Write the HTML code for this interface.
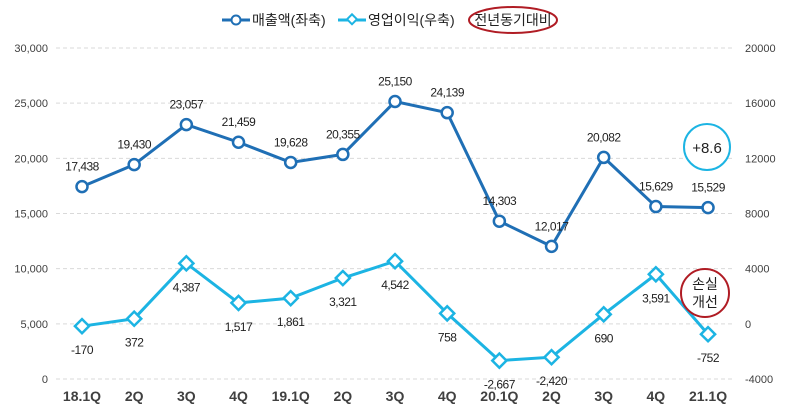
<!DOCTYPE html>
<html><head><meta charset="utf-8"><style>
body{margin:0;background:#fff;}
svg{display:block;font-family:"Liberation Sans","Noto Sans CJK KR",sans-serif;}
</style></head><body>
<svg id="c" width="788" height="410"></svg>
<script>
const categories=["18.1Q","2Q","3Q","4Q","19.1Q","2Q","3Q","4Q","20.1Q","2Q","3Q","4Q","21.1Q"];
const revenue=[17438,19430,23057,21459,19628,20355,25150,24139,14303,12017,20082,15629,15529];
const profit=[-170,372,4387,1517,1861,3321,4542,758,-2667,-2420,690,3591,-752];
const leftTicks=[0,5000,10000,15000,20000,25000,30000];
const rightTicks=[-4000,0,4000,8000,12000,16000,20000];
const NS="http://www.w3.org/2000/svg";
const svg=document.getElementById('c');
function el(t,a,txt){const e=document.createElementNS(NS,t);for(const k in a)e.setAttribute(k,a[k]);if(txt!==undefined)e.textContent=txt;svg.appendChild(e);return e;}
const x=i=>82+i*52.17;
const yL=v=>379-v/30000*331;
const yR=v=>379-(v+4000)/24000*331;
leftTicks.forEach(t=>{
 const g=el('line',{x1:56,x2:734,y1:yL(t),y2:yL(t),stroke:'#d9d9d9','stroke-dasharray':'4,3'});
 
 const l=el('text',{x:48,y:yL(t)+4,'text-anchor':'end','font-size':11,fill:'#404040'},t.toLocaleString('en-US'));
 
});
rightTicks.forEach(t=>{
 const l=el('text',{x:745,y:yR(t)+4,'font-size':11,fill:'#404040'},String(t));
 
});
categories.forEach((c,i)=>{
 const l=el('text',{x:x(i),y:401,'text-anchor':'middle','font-size':14,'font-weight':'bold',fill:'#404040'},c);
 
});
const rp=el('polyline',{points:revenue.map((v,i)=>x(i)+','+yL(v)).join(' '),fill:'none',stroke:'#1f6fb5','stroke-width':3});

const pp=el('polyline',{points:profit.map((v,i)=>x(i)+','+yR(v)).join(' '),fill:'none',stroke:'#1cb4e3','stroke-width':3});

revenue.forEach((v,i)=>{
 const m=el('circle',{cx:x(i),cy:yL(v),r:5.5,fill:'#fff',stroke:'#1f6fb5','stroke-width':2.5});
 
 const l=el('text',{x:x(i),y:yL(v)-16,'text-anchor':'middle','font-size':12,fill:'#222','letter-spacing':'-0.5'},v.toLocaleString('en-US'));
 
});
profit.forEach((v,i)=>{
 const cx=x(i),cy=yR(v);
 const m=el('rect',{x:cx-5,y:cy-5,width:10,height:10,fill:'#fff',stroke:'#1cb4e3','stroke-width':2.5,transform:`rotate(45 ${cx} ${cy})`});
 
 const l=el('text',{x:cx,y:cy+28,'text-anchor':'middle','font-size':12,fill:'#222','letter-spacing':'-0.5'},v.toLocaleString('en-US'));
 
});
</script>
<svg width="788" height="410" style="position:absolute;left:0;top:0">
 <g>
  <line x1="222" y1="20" x2="250" y2="20" stroke="#1f6fb5" stroke-width="3"/>
  <circle cx="236" cy="20" r="4.5" fill="#fff" stroke="#1f6fb5" stroke-width="2"/>
  <text x="252" y="25" font-size="14" fill="#222">매출액(좌축)</text>
 </g>
 <g>
  <line x1="338" y1="20" x2="366" y2="20" stroke="#1cb4e3" stroke-width="3"/>
  <rect x="348" y="16" width="7" height="7" fill="#fff" stroke="#1cb4e3" stroke-width="2" transform="rotate(45 352 20)"/>
  <text x="368" y="25" font-size="14" fill="#222">영업이익(우축)</text>
 </g>
 <g>
  <ellipse cx="513" cy="20" rx="44" ry="13" fill="none" stroke="#b01c24" stroke-width="2"/>
  <text x="513" y="25" font-size="14" text-anchor="middle" fill="#222">전년동기대비</text>
 </g>
 <g>
  <circle cx="707" cy="147" r="23" fill="#fff" stroke="#1cb4e3" stroke-width="2"/>
  <text x="707" y="153" font-size="15" text-anchor="middle" fill="#222">+8.6</text>
 </g>
 <g>
  <circle cx="705" cy="293" r="24" fill="#fff" stroke="#b01c24" stroke-width="2"/>
  <text x="705" y="289" font-size="14" text-anchor="middle" fill="#222">손실</text>
  <text x="705" y="307" font-size="14" text-anchor="middle" fill="#222">개선</text>
 </g>
</svg>
</body></html>
